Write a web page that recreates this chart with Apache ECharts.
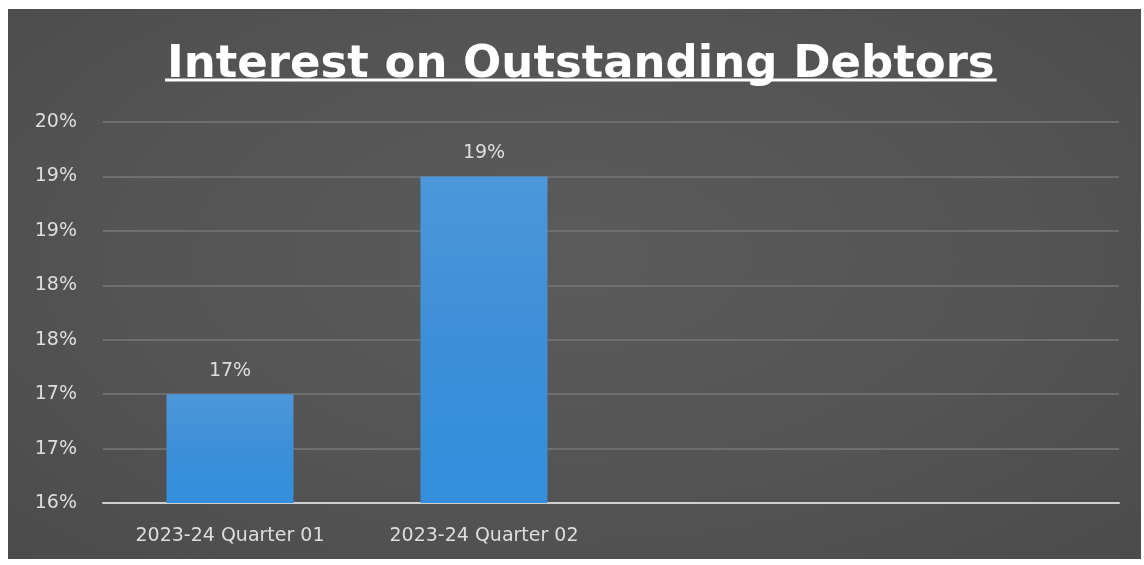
<!DOCTYPE html>
<html>
<head>
<meta charset="utf-8">
<script src="https://cdn.jsdelivr.net/npm/echarts@6/dist/echarts.min.js"></script>
<style>
  html, body { margin: 0; padding: 0; background: #ffffff; width: 1144px; height: 565px; overflow: hidden; }
  #frame { position: absolute; left: 8px; top: 9px; width: 1133px; height: 550px;
           background: radial-gradient(ellipse at 50% 45%, #5b5b5b 0%, #545454 55%, #4b4b4b 100%); }
  #chart { position: absolute; left: 0; top: 0; width: 1133px; height: 550px; }
</style>
</head>
<body>
<div id="frame"><div id="chart"></div></div>
<script>
const titleText = 'Interest on Outstanding Debtors';
const categories = ['2023-24 Quarter 01', '2023-24 Quarter 02', '', ''];
const values = [17, 19];
const yMin = 16, yMax = 19.5, yStep = 0.5;

const font = '"DejaVu Sans", sans-serif';
const titleSize = 45;
const titleCenterX = 573;

// measure title width to fit the underline under the text
const ctx = document.createElement('canvas').getContext('2d');
ctx.font = 'bold ' + titleSize + 'px ' + font;
const titleW = ctx.measureText(titleText).width;
const titleLeft = Math.round(titleCenterX - titleW / 2);

const chart = echarts.init(document.getElementById('chart'));
chart.setOption({
  backgroundColor: 'transparent',
  animation: false,
  title: {
    text: titleText,
    left: titleLeft - 5,
    top: 29,
    textStyle: { color: '#ffffff', fontSize: titleSize, fontWeight: 'bold', fontFamily: font }
  },
  graphic: [{
    type: 'line',
    shape: { x1: titleLeft - 2, y1: 71, x2: titleLeft + titleW + 2, y2: 71 },
    style: { stroke: '#ffffff', lineWidth: 3 }
  }],
  grid: { left: 95, right: 22, top: 113, bottom: 56 },
  xAxis: {
    type: 'category',
    data: categories,
    axisLine: { lineStyle: { color: '#cfcfcf', width: 2 } },
    axisTick: { show: false },
    axisLabel: { color: '#dedede', fontSize: 19, fontFamily: font, margin: 24 }
  },
  yAxis: {
    type: 'value',
    min: yMin, max: yMax, interval: yStep,
    axisLine: { show: false },
    axisTick: { show: false },
    splitLine: { lineStyle: { color: '#6e6e6e', width: 2 } },
    axisLabel: {
      color: '#dedede', fontSize: 19, fontFamily: font, margin: 26,
      formatter: v => Math.round(v) + '%'
    }
  },
  series: [{
    type: 'bar',
    data: values,
    barWidth: '50%',
    itemStyle: {
      color: new echarts.graphic.LinearGradient(0, 0, 0, 1, [
        { offset: 0, color: '#4d97da' },
        { offset: 0.5, color: '#3d8fd8' },
        { offset: 1, color: '#338fdd' }
      ])
    },
    label: {
      show: true, position: 'top', distance: 14,
      color: '#dedede', fontSize: 19, fontFamily: font,
      formatter: p => Math.round(p.value) + '%'
    }
  }]
});
</script>
</body>
</html>
